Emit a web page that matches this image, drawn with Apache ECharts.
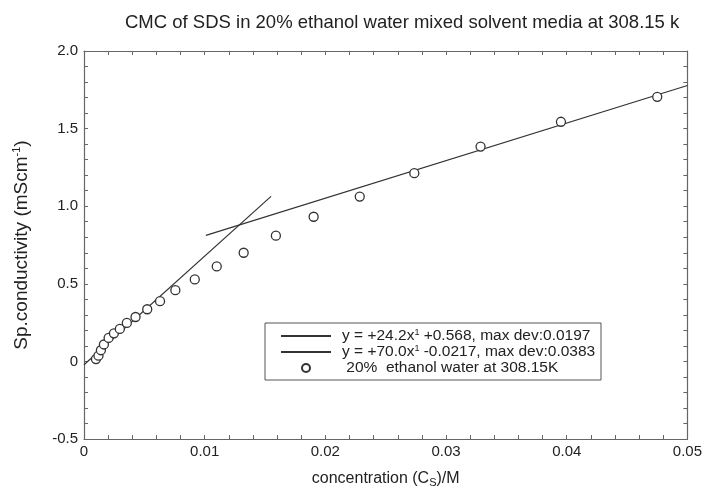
<!DOCTYPE html>
<html>
<head>
<meta charset="utf-8">
<script src="https://cdn.jsdelivr.net/npm/echarts@6/dist/echarts.min.js"></script>
<style>
html,body{margin:0;padding:0;background:#fff;}
#chart{width:705px;height:493px;}
</style>
</head>
<body>
<div id="chart"></div>
<script>
// Measured data: concentration (M) vs specific conductivity (mS/cm)
const concentration = [0.00099, 0.0012, 0.0014, 0.00165, 0.00204, 0.00248, 0.00297, 0.00355, 0.00427, 0.00524, 0.0063, 0.00757, 0.00918, 0.0110, 0.01323, 0.0159, 0.01903, 0.02285, 0.02737, 0.03286, 0.03952, 0.0475];
const conductivity  = [0.015, 0.037, 0.072, 0.109, 0.151, 0.181, 0.209, 0.248, 0.286, 0.336, 0.388, 0.459, 0.528, 0.612, 0.700, 0.810, 0.932, 1.062, 1.213, 1.384, 1.544, 1.705];

// Fitted lines (endpoints)
const fit1X = [0.0101, 0.05];
const fit1Y = [0.812, 1.778];
const fit2X = [0.0, 0.0155];
const fit2Y = [-0.0217, 1.063];

const xTicks = [0, 0.01, 0.02, 0.03, 0.04, 0.05];
const yTicks = [-0.5, 0, 0.5, 1.0, 1.5, 2.0];

const name1 = 'y = +24.2x^1 +0.568, max dev:0.0197';
const name2 = 'y = +70.0x^1 -0.0217, max dev:0.0383';
const name3 = ' 20%  ethanol water at 308.15K';

const FONT = "'Liberation Sans', Arial, sans-serif";
const AX = '#666';
const INK = '#333';

const zip = (a, b) => a.map((v, i) => [v, b[i]]);

const chart = echarts.init(document.getElementById('chart'));

const axisCommon = {
  type: 'value',
  axisLine: { show: true, onZero: false, lineStyle: { color: AX, width: 1.2 } },
  axisTick: { show: true, inside: true, length: 4, lineStyle: { color: AX } },
  minorTick: { show: true, splitNumber: 5, length: 4, lineStyle: { color: AX } },
  splitLine: { show: false },
  minorSplitLine: { show: false }
};

chart.setOption({
  animation: false,
  backgroundColor: '#fff',
  title: {
    text: 'CMC of SDS in 20% ethanol water mixed solvent media at 308.15 k',
    left: 120, top: 8,
    textStyle: { fontFamily: FONT, fontSize: 18.5, fontWeight: 'normal', color: '#222' }
  },
  grid: { left: 84, right: 15, top: 51, bottom: 52 },
  xAxis: [
    Object.assign({}, axisCommon, {
      position: 'bottom',
      min: xTicks[0], max: xTicks[xTicks.length - 1], interval: 0.01,
      name: 'concentration (C{sub|S})/M',
      nameLocation: 'middle', nameGap: 31,
      nameTextStyle: {
        fontFamily: FONT, fontSize: 16, color: '#222',
        rich: { sub: { fontFamily: FONT, fontSize: 11, color: '#222', verticalAlign: 'bottom', padding: [7, 0, 0, 0] } }
      },
      axisLabel: {
        fontFamily: FONT, fontSize: 15, color: '#222', margin: 5,
        formatter: v => (v === 0 ? '0' : String(+v.toFixed(2)))
      }
    }),
    Object.assign({}, axisCommon, {
      position: 'top',
      min: xTicks[0], max: xTicks[xTicks.length - 1], interval: 0.01,
      axisLabel: { show: false }
    })
  ],
  yAxis: [
    Object.assign({}, axisCommon, {
      position: 'left',
      min: yTicks[0], max: yTicks[yTicks.length - 1], interval: 0.5,
      name: 'Sp.conductivity (mScm{sup|-1})',
      nameLocation: 'middle', nameGap: 52, nameRotate: 90,
      nameTextStyle: {
        fontFamily: FONT, fontSize: 19, color: '#222',
        rich: { sup: { fontFamily: FONT, fontSize: 11, color: '#222', verticalAlign: 'top', padding: [0, 0, 10, 0] } }
      },
      axisLabel: {
        fontFamily: FONT, fontSize: 15, color: '#222', margin: 6,
        formatter: v => (v === 0 ? '0' : v.toFixed(1))
      }
    }),
    Object.assign({}, axisCommon, {
      position: 'right',
      min: yTicks[0], max: yTicks[yTicks.length - 1], interval: 0.5,
      axisLabel: { show: false }
    })
  ],
  legend: {
    orient: 'vertical',
    left: 280, top: 328,
    itemWidth: 50, itemHeight: 8, itemGap: 0,
    padding: 0,
    data: [
      { name: name1, itemStyle: { color: 'rgba(0,0,0,0)', borderWidth: 0, opacity: 0 } },
      { name: name2, itemStyle: { color: 'rgba(0,0,0,0)', borderWidth: 0, opacity: 0 } },
      { name: name3 }
    ],
    formatter: n => n.replace('x^1', 'x{sup|1}'),
    textStyle: {
      fontFamily: FONT, fontSize: 15.5, color: '#222', lineHeight: 15.5, padding: [0, 0, 0, 6],
      rich: { sup: { fontFamily: FONT, fontSize: 9, color: '#222', verticalAlign: 'top', lineHeight: 10 } }
    }
  },
  graphic: [{
    type: 'rect',
    shape: { x: 265, y: 323, width: 336, height: 57 },
    style: { fill: 'none', stroke: '#555', lineWidth: 1 },
    z: 100
  }],
  series: [
    {
      name: name1, type: 'line', symbol: 'none',
      data: zip(fit1X, fit1Y),
      lineStyle: { color: INK, width: 1.2 }, itemStyle: { color: INK }
    },
    {
      name: name2, type: 'line', symbol: 'none',
      data: zip(fit2X, fit2Y),
      lineStyle: { color: INK, width: 1.2 }, itemStyle: { color: INK }
    },
    {
      name: name3, type: 'scatter', symbol: 'circle', symbolSize: 9,
      data: zip(concentration, conductivity),
      itemStyle: { color: '#fff', borderColor: INK, borderWidth: 1.3, opacity: 1 },
      z: 3
    }
  ]
});
</script>
</body>
</html>
